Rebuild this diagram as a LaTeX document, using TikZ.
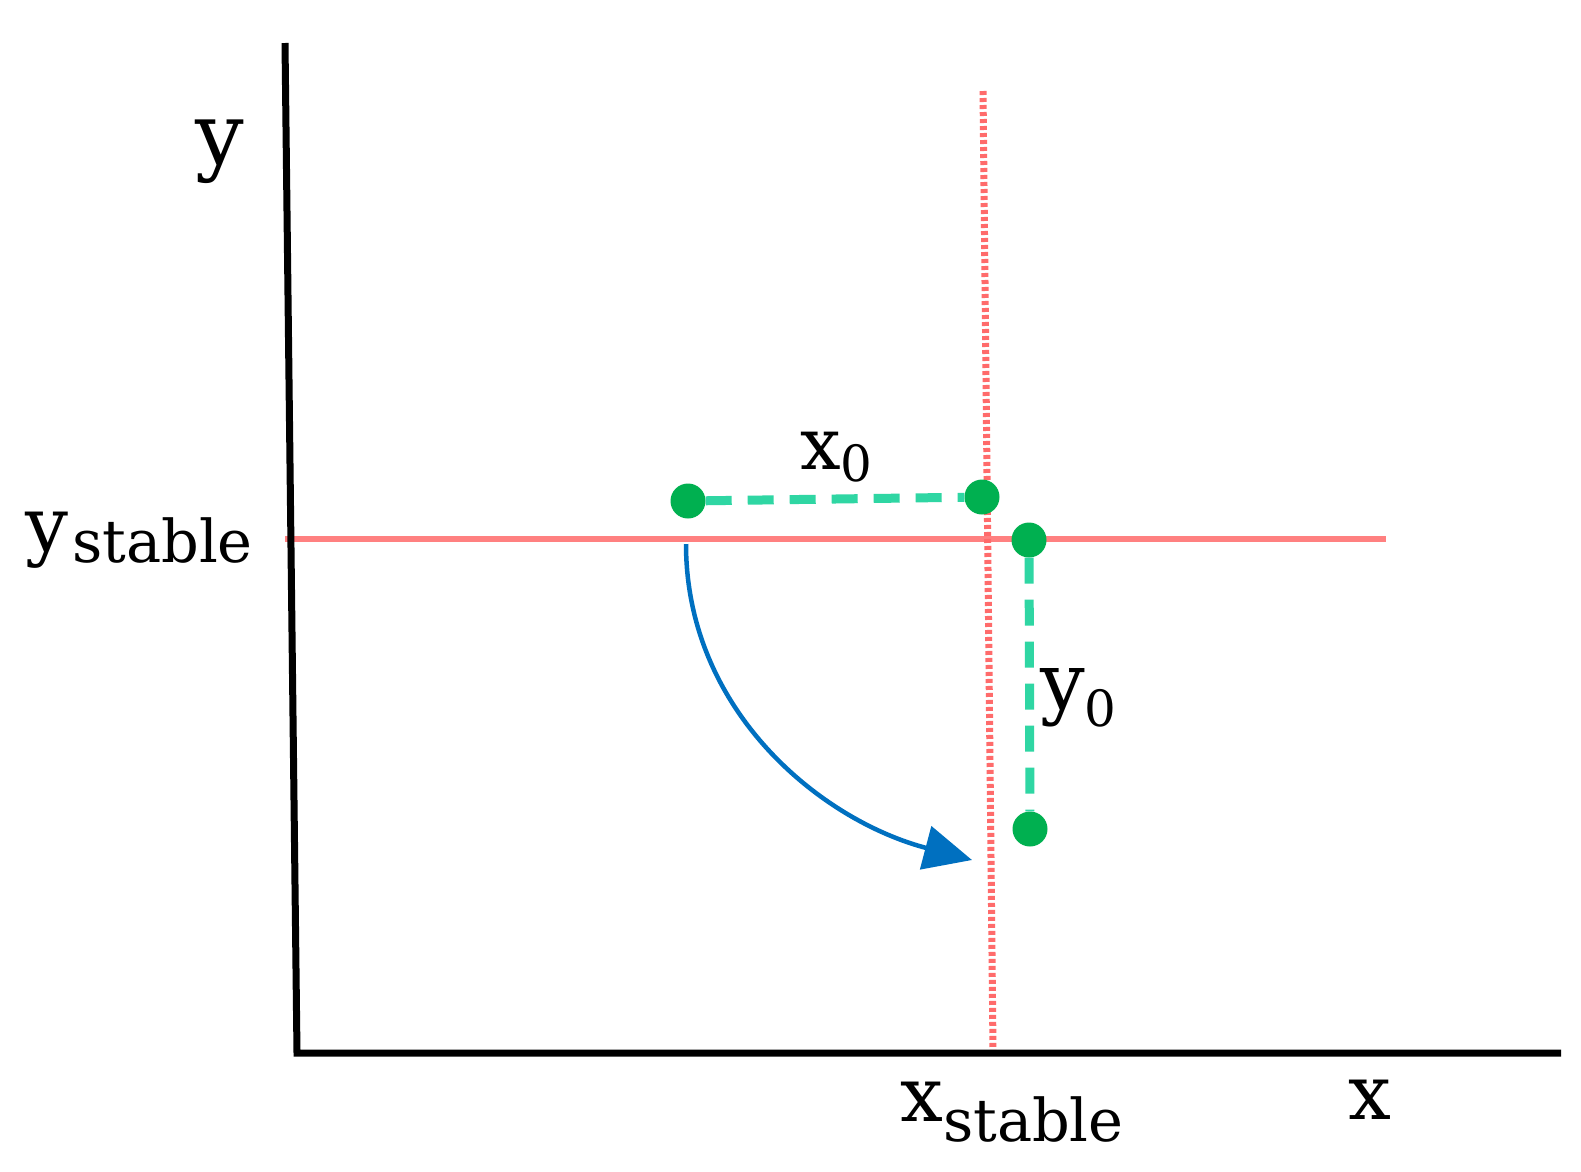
\documentclass[tikz,border=0pt]{standalone}
\usepackage{fontspec}
\setmainfont{DejaVu Serif}
\usetikzlibrary{arrows.meta}
\definecolor{axisred}{HTML}{FF8080}
\definecolor{dotred}{HTML}{FF6B6B}
\definecolor{dotgreen}{HTML}{00B050}
\definecolor{dashgreen}{HTML}{2FD6A3}
\definecolor{arrowblue}{HTML}{0070C0}
\newcommand\bigsz{\fontsize{76}{80}\selectfont}
\newcommand\topsz{\fontsize{86}{90}\selectfont}
\newcommand\midsz{\fontsize{72}{76}\selectfont}
\newcommand\ysz{\fontsize{79}{83}\selectfont}
\newcommand\subsz{\fontsize{59}{63}\selectfont}
\newcommand\zerosz{\fontsize{50}{54}\selectfont}
\tikzset{
  axisline/.style={line width=7pt, black, line join=miter},
  redline/.style={line width=6pt, axisred},
  reddotline/.style={line width=7pt, dotred, dash pattern=on 4pt off 3pt},
  gdot/.style={circle, fill=dotgreen, minimum size=35pt, inner sep=0pt},
  gdash/.style={line width=9pt, dashgreen, dash pattern=on 26pt off 16pt},
  lab/.style={inner sep=0pt, text=black},
  bluearrow/.style={line width=4.5pt, arrowblue, -{Triangle[length=48pt,width=44pt]}},
}
\begin{document}
\begin{tikzpicture}[x=1pt,y=-1pt]
\useasboundingbox[fill=white] (0,0) rectangle (1581,1171);
% reference lines
\coordinate (hl) at (285,539);
\coordinate (hr) at (1386,539);
\draw[redline] (hl) -- (hr);
\coordinate (vt) at (983,91);
\coordinate (vb) at (993,1050);
\draw[reddotline] (vt) -- (vb);
% axes
\coordinate (ytop) at (285,43);
\coordinate (O) at (297,1053);
\coordinate (xend) at (1561,1053);
\draw[axisline] (ytop) -- (O) -- (xend);
% green points and dashed offsets
\node[gdot] (a) at (688,501) {};
\node[gdot] (b) at (982,497) {};
\node[gdot] (c) at (1029,540) {};
\node[gdot] (d) at (1030,829) {};
\draw[gdash] (a) -- (b);
\draw[gdash] (c) -- (d);
% blue curved arrow
\coordinate (s) at (686,544);
\coordinate (t) at (972,860);
\draw[bluearrow] (s) .. controls (686,710) and (820,820) .. (t);
% labels
\node[lab, anchor=base] (ylab) at (220,164) {\topsz y};
\node[lab, anchor=base west] (ystab) at (25,551) {\bigsz y\hspace{4pt}\raisebox{-11pt}{\subsz stable}};
\node[lab, anchor=base west] (xstab) at (900,1121) {\bigsz x\raisebox{-20pt}{\subsz stable}};
\node[lab, anchor=base] (xlab) at (1370,1119) {\bigsz x};
\node[lab, anchor=base west] (x0) at (800,469) {\midsz x\raisebox{-12pt}{\zerosz 0}};
\node[lab, anchor=base west] (y0) at (1040,709) {\ysz y\raisebox{-17pt}{\zerosz 0}};
\end{tikzpicture}
\end{document}
